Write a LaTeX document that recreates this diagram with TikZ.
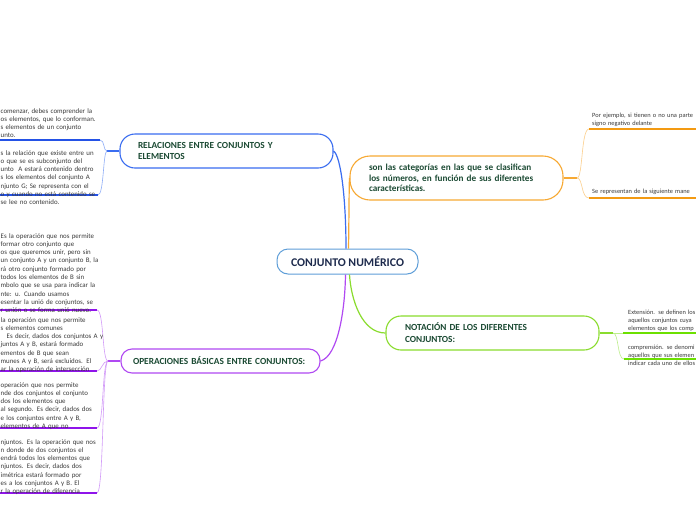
\documentclass[tikz,border=0pt]{standalone}
\usepackage{fontspec}
\setmainfont{Carlito}

\definecolor{modra}{HTML}{3A6DF0}
\definecolor{modrasv}{HTML}{8FAEF7}
\definecolor{modratm}{HTML}{2452E6}
\definecolor{oranz}{HTML}{F7A933}
\definecolor{oranzsv}{HTML}{FCCF8C}
\definecolor{oranztm}{HTML}{F39A12}
\definecolor{zelena}{HTML}{8ADC2E}
\definecolor{zelenasv}{HTML}{BDEE8C}
\definecolor{zelenatm}{HTML}{6CE000}
\definecolor{fialova}{HTML}{B049F2}
\definecolor{fialovasv}{HTML}{D29BF8}
\definecolor{fialovatm}{HTML}{8F14EA}
\definecolor{stred}{HTML}{5E9ED8}
\definecolor{nadpis}{HTML}{1B4A33}
\definecolor{koren}{HTML}{1E2B4D}
\definecolor{sedy}{HTML}{3A3A3A}

\tikzset{
  tema/.style={draw, fill=white, line width=1.1pt, align=left, inner ysep=2pt,
    font=\fontsize{9.3}{11.7}\selectfont\bfseries, text=nadpis},
  vetev/.style={line width=1.2pt},
  tenka/.style={line width=0.6pt},
  podtrh/.style={line width=1.1pt},
  popis/.style={anchor=base west, inner sep=0pt, align=left, text width=160pt,
    font=\fontsize{6.9}{8.3}\selectfont, text=sedy},
  popisp/.style={popis, font=\fontsize{6.4}{8.3}\selectfont},
}

\begin{document}
\begin{tikzpicture}[x=1pt, y=-1pt]
        \useasboundingbox[fill=white] (0,0) rectangle (696,520);

        % střed
        \node[draw=stred, fill=white, line width=1pt, rounded corners=11pt,
              minimum width=141pt, minimum height=25pt, text=koren,
              font=\fontsize{11.8}{13}\selectfont\bfseries] (centro) at (347.5,261.5) {CONJUNTO NUMÉRICO};

        % hlavní uzly
        \node[tema, draw=modra, rounded corners=15pt, text width=177pt, inner xsep=18pt,
              minimum height=34pt] (rel) at (226.5,151) {RELACIONES ENTRE CONJUNTOS Y\\ ELEMENTOS};
        \node[tema, draw=oranz, rounded corners=20pt, text width=175pt, inner xsep=19pt,
              minimum height=44pt, font=\fontsize{9.2}{10.7}\selectfont\bfseries] (cat) at (456.5,178)
              {son las categorías en las que se clasifican\\ los números, en función de sus diferentes\\ características.};
        \node[tema, draw=zelena, rounded corners=15pt, text width=175pt, inner xsep=19pt,
              minimum height=34pt, font=\fontsize{9.3}{12}\selectfont\bfseries] (nota) at (492.5,333)
              {NOTACIÓN DE LOS DIFERENTES\\ CONJUNTOS:};
        \node[tema, draw=fialova, rounded corners=11pt, text width=175pt, inner xsep=12pt,
              minimum height=24pt] (oper) at (220.5,361) {OPERACIONES BÁSICAS ENTRE CONJUNTOS:};

        % větve ze středu
        \draw[vetev, modra] ([xshift=-1.5pt]centro.north) .. controls (346,200) and (341,156) .. (rel.east);
        \draw[vetev, oranz] ([xshift=1pt]centro.north) .. controls (349,220) and (349,192) .. (cat.west);
        \draw[vetev, fialova] ([xshift=-2pt]centro.south) .. controls (345,310) and (338,356) .. (oper.east);
        \draw[vetev, zelena] ([xshift=2pt]centro.south) .. controls (351,300) and (362,333) .. (nota.west);

        % rozvětvení
        \coordinate (rel-v) at (107,151);
        \coordinate (cat-v) at (577,178);
        \coordinate (nota-v) at (613,333);
        \coordinate (oper-v) at (108,361);

        % podtržení
        \coordinate (rel-a) at (100,140);  \coordinate (rel-a0) at (0,140);
        \coordinate (rel-b) at (98,195);   \coordinate (rel-b0) at (0,195);
        \coordinate (cat-a) at (589,129);  \coordinate (cat-a0) at (696,129);
        \coordinate (cat-b) at (589,198);  \coordinate (cat-b0) at (696,198);
        \coordinate (nota-a) at (623,333); \coordinate (nota-a0) at (696,333);
        \coordinate (nota-b) at (624,359); \coordinate (nota-b0) at (696,359);
        \coordinate (oper-a) at (97,310);  \coordinate (oper-a0) at (0,310);
        \coordinate (oper-b) at (97,371);  \coordinate (oper-b0) at (0,371);
        \coordinate (oper-c) at (97,428);  \coordinate (oper-c0) at (0,428);
        \coordinate (oper-d) at (97,493);  \coordinate (oper-d0) at (0,493);

        \draw[vetev, modra] (rel.west) -- (rel-v);
        \draw[tenka, modrasv] (rel-v) .. controls (103,151) and (105,140) .. (rel-a);
        \draw[tenka, modrasv] (rel-v) .. controls (103,151) and (104,195) .. (rel-b);
        \draw[podtrh, modratm] (rel-a) -- (rel-a0);
        \draw[podtrh, modratm] (rel-b) -- (rel-b0);

        \draw[vetev, oranz] (cat.east) -- (cat-v);
        \draw[tenka, oranzsv] (cat-v) .. controls (583,178) and (581,129) .. (cat-a);
        \draw[tenka, oranzsv] (cat-v) .. controls (583,178) and (581,198) .. (cat-b);
        \draw[podtrh, oranztm] (cat-a) -- (cat-a0);
        \draw[podtrh, oranztm] (cat-b) -- (cat-b0);

        \draw[vetev, zelena] (nota.east) -- (nota-v);
        \draw[tenka, zelenasv] (nota-v) -- (nota-a);
        \draw[tenka, zelenasv] (nota-v) .. controls (619,333) and (617,359) .. (nota-b);
        \draw[podtrh, zelenatm] (nota-a) -- (nota-a0);
        \draw[podtrh, zelenatm] (nota-b) -- (nota-b0);

        \draw[vetev, fialova] (oper.west) -- (oper-v);
        \draw[tenka, fialovasv] (oper-v) .. controls (102,361) and (104,310) .. (oper-a);
        \draw[tenka, fialovasv] (oper-v) .. controls (102,361) and (102,371) .. (oper-b);
        \draw[tenka, fialovasv] (oper-v) .. controls (102,361) and (104,428) .. (oper-c);
        \draw[tenka, fialovasv] (oper-v) .. controls (102,361) and (104,493) .. (oper-d);
        \draw[podtrh, fialovatm] (oper-a) -- (oper-a0);
        \draw[podtrh, fialovatm] (oper-b) -- (oper-b0);
        \draw[podtrh, fialovatm] (oper-c) -- (oper-c0);
        \draw[podtrh, fialovatm] (oper-d) -- (oper-d0);

        % texty
        \node[popis] (rel-ta) at (0.5,113) {comenzar, debes comprender la\\ os elementos, que lo conforman.\\ s elementos de un conjunto\\ unto.};
        \node[popis] (rel-tb) at (0.5,155) {s la relación que existe entre un\\ o que se es subconjunto del\\ unto\ \ A estará contenido dentro\\ s los elementos del conjunto A\\ njunto G; Se representa con el\\ o y cuando no está contenido se\\ se lee no contenido.};

        \node[popisp] (cat-ta) at (592,117) {Por ejemplo, si tienen o no una parte\\ signo negativo delante};
        \node[popisp] (cat-tb) at (592,193) {Se representan de la siguiente mane};

        \node[popisp] (nota-ta) at (628,314) {Extensión. se definen los\\ aquellos conjuntos cuya\\ elementos que los comp};
        \node[popisp] (nota-tb) at (628,349) {comprensión. se denomi\\ aquellos que sus elemen\\ indicar cada uno de ellos};

        \node[popis] (oper-ta) at (0.5,238) {Es la operación que nos permite\\ formar otro conjunto que\\ os que queremos unir, pero sin\\ un conjunto A y un conjunto B, la\\ rá otro conjunto formado por\\ todos los elementos de B sin\\ mbolo que se usa para indicar la\\ nte: u. Cuando usamos\\ esentar la unió de conjuntos, se\\ r unión o se forma unió nuevo.};
        \node[popis] (oper-tb) at (0.5,322) {la operación que nos permite\\ s elementos comunes\\ \hspace*{6pt}Es decir, dados dos conjuntos A y\\ juntos A y B, estará formado\\ ementos de B que sean\\ munes A y B, será excluidos. El\\ ar la operación de intersección};
        \node[popis] (oper-tc) at (0.5,387) {operación que nos permite\\ nde dos conjuntos el conjunto\\ dos los elementos que\\ al segundo. Es decir, dados dos\\ e los conjuntos entre A y B,\\ elementos de A que no};
        \node[popis] (oper-td) at (0.5,444) {njuntos. Es la operación que nos\\ n donde de dos conjuntos el\\ endrá todos los elementos que\\ njuntos. Es decir, dados dos\\ imétrica estará formado por\\ es a los conjuntos A y B. El\\ r la operación de diferencia};

    \end{tikzpicture}
\end{document}
